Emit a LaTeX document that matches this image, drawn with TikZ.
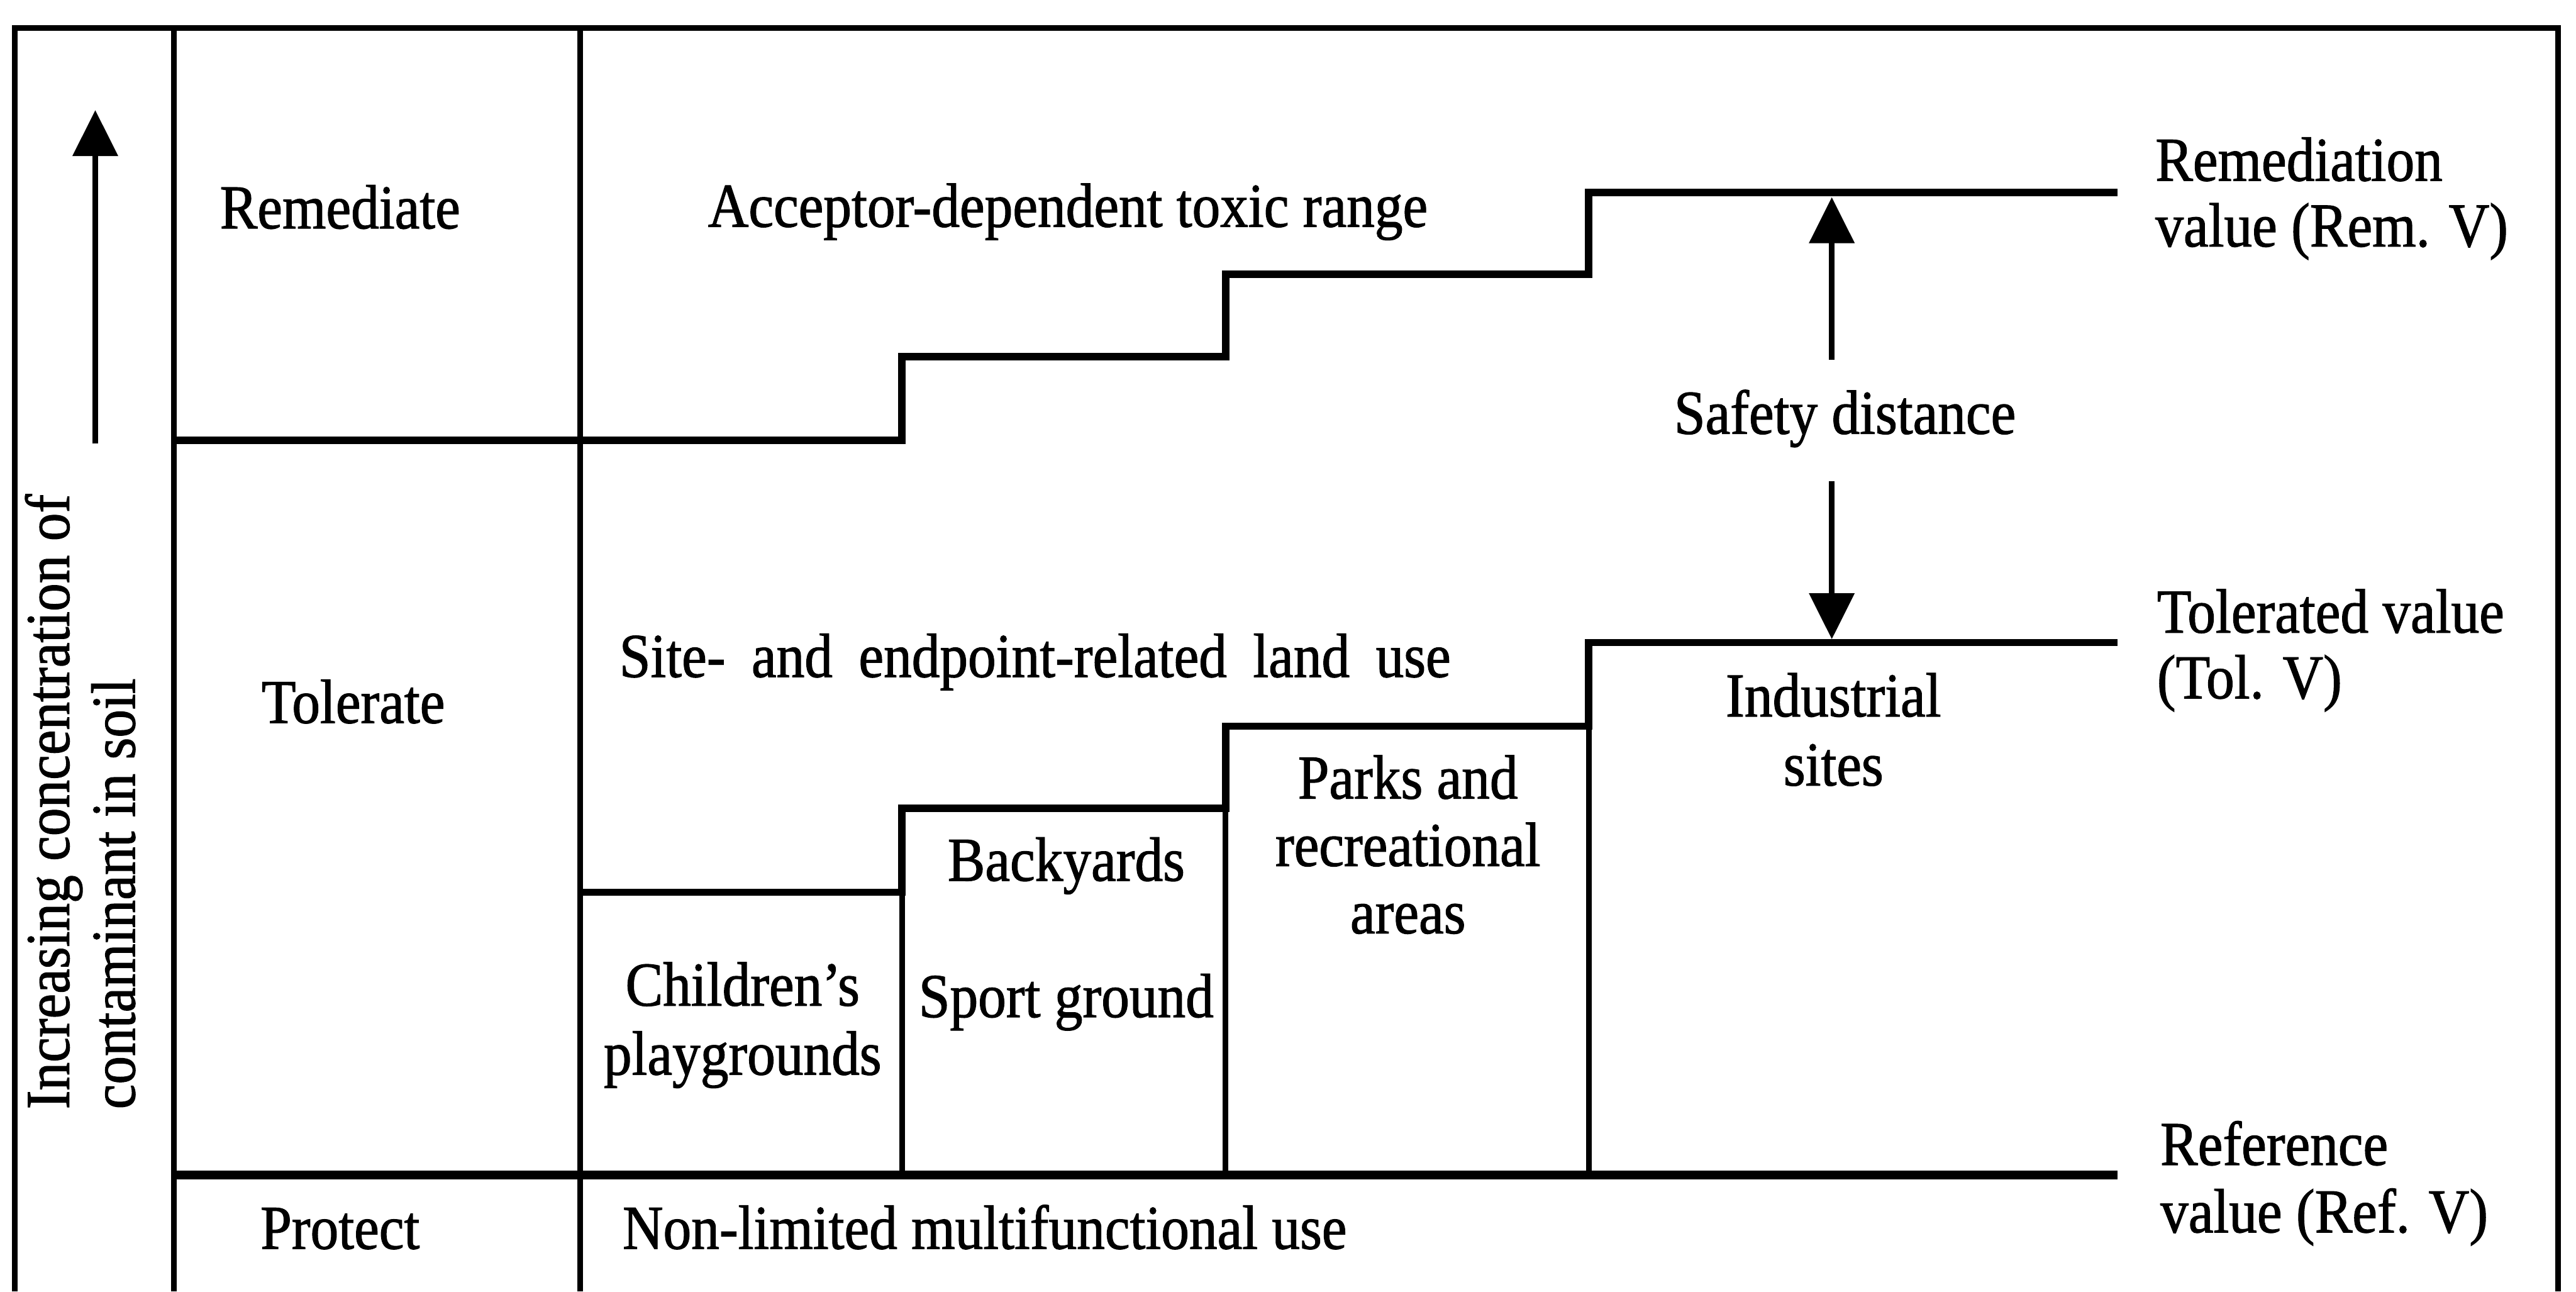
\documentclass[tikz,border=0pt]{standalone}
\usepackage{fontspec}
\setmainfont[FakeStretch=0.9,FakeBold=1.2]{Liberation Serif}
\usetikzlibrary{arrows.meta}
\begin{document}
\begin{tikzpicture}[x=1pt,y=-1pt,
  frameline/.style={line width=3.5pt},
  stairline/.style={line width=4.5pt, line join=miter},
  wallline/.style={line width=3.5pt},
  refline/.style={line width=5.5pt},
  arr/.style={line width=3.5pt, -{Triangle[length=28pt,width=27pt]}},
  lbl/.style={font=\fontsize{38}{41}\selectfont, inner sep=0pt, outer sep=0pt},
]
\useasboundingbox (0,0) rectangle (1568,786);
\fill[white] (0,0) rectangle (1568,786);

% frame and columns
\draw[frameline] (9,786) -- (9,17) -- (1557,17) -- (1557,786);
\draw[frameline] (106,17) -- (106,786);
\draw[frameline] (353,17) -- (353,786);

% remediation value staircase
\draw[stairline] (106,268) -- (549,268) -- (549,217) -- (746,217) -- (746,167) -- (967,167) -- (967,117) -- (1289,117);

% tolerated value staircase
\draw[stairline] (353,543) -- (549,543) -- (549,492) -- (746,492) -- (746,442) -- (967,442) -- (967,391) -- (1289,391);
\draw[wallline] (549,543) -- (549,715);
\draw[wallline] (746,492) -- (746,715);
\draw[wallline] (967,442) -- (967,715);

% reference value line
\draw[refline] (106,715) -- (1289,715);

% concentration arrow
\coordinate (concLow) at (58,270);
\coordinate (concHigh) at (58,67);
\draw[arr] (concLow) -- (concHigh);

% rotated axis label
\node[lbl, rotate=90, anchor=base west] (axisA) at (42,675) {Increasing concentration of};
\node[lbl, rotate=90, anchor=base west] (axisB) at (82,675) {contaminant in soil};

% zone labels
\node[lbl, anchor=base] (remediate) at (207,139) {Remediate};
\node[lbl, anchor=base] (tolerate) at (215,440) {Tolerate};
\node[lbl, anchor=base] (protect) at (207,760) {Protect};

% central texts
\node[lbl, anchor=base] (toxic) at (650,138) {Acceptor-dependent toxic range};
\node[lbl, anchor=base west] (siteuse) at (377,412) {\makebox[506pt][s]{Site- and endpoint-related land use}};
\node[lbl, anchor=base west] (nonlim) at (379,760) {Non-limited multifunctional use};

% safety distance
\node[lbl, anchor=base] (safety) at (1123,264) {Safety distance};
\coordinate (sdUpFrom) at (1115,219);
\coordinate (sdUpTo) at (1115,120);
\coordinate (sdDownFrom) at (1115,293);
\coordinate (sdDownTo) at (1115,389);
\draw[arr] (sdUpFrom) -- (sdUpTo);
\draw[arr] (sdDownFrom) -- (sdDownTo);

% land uses
\node[lbl, anchor=base] (ind1) at (1116,436) {Industrial};
\node[lbl, anchor=base] (ind2) at (1116,478) {sites};
\node[lbl, anchor=base] (park1) at (857,486) {Parks and};
\node[lbl, anchor=base] (park2) at (857,527) {recreational};
\node[lbl, anchor=base] (park3) at (857,568) {areas};
\node[lbl, anchor=base] (back) at (649,536) {Backyards};
\node[lbl, anchor=base] (sport) at (649,619) {Sport ground};
\node[lbl, anchor=base] (child1) at (452,612) {Children’s};
\node[lbl, anchor=base] (child2) at (452,654) {playgrounds};

% value labels
\node[lbl, anchor=base west] (remv1) at (1312,110) {Remediation};
\node[lbl, anchor=base west] (remv2) at (1312,150) {value (Rem. V)};
\node[lbl, anchor=base west] (tolv1) at (1313,385) {Tolerated value};
\node[lbl, anchor=base west] (tolv2) at (1313,425) {(Tol. V)};
\node[lbl, anchor=base west] (refv1) at (1315,709) {Reference};
\node[lbl, anchor=base west] (refv2) at (1315,750) {value (Ref. V)};
\end{tikzpicture}
\end{document}
